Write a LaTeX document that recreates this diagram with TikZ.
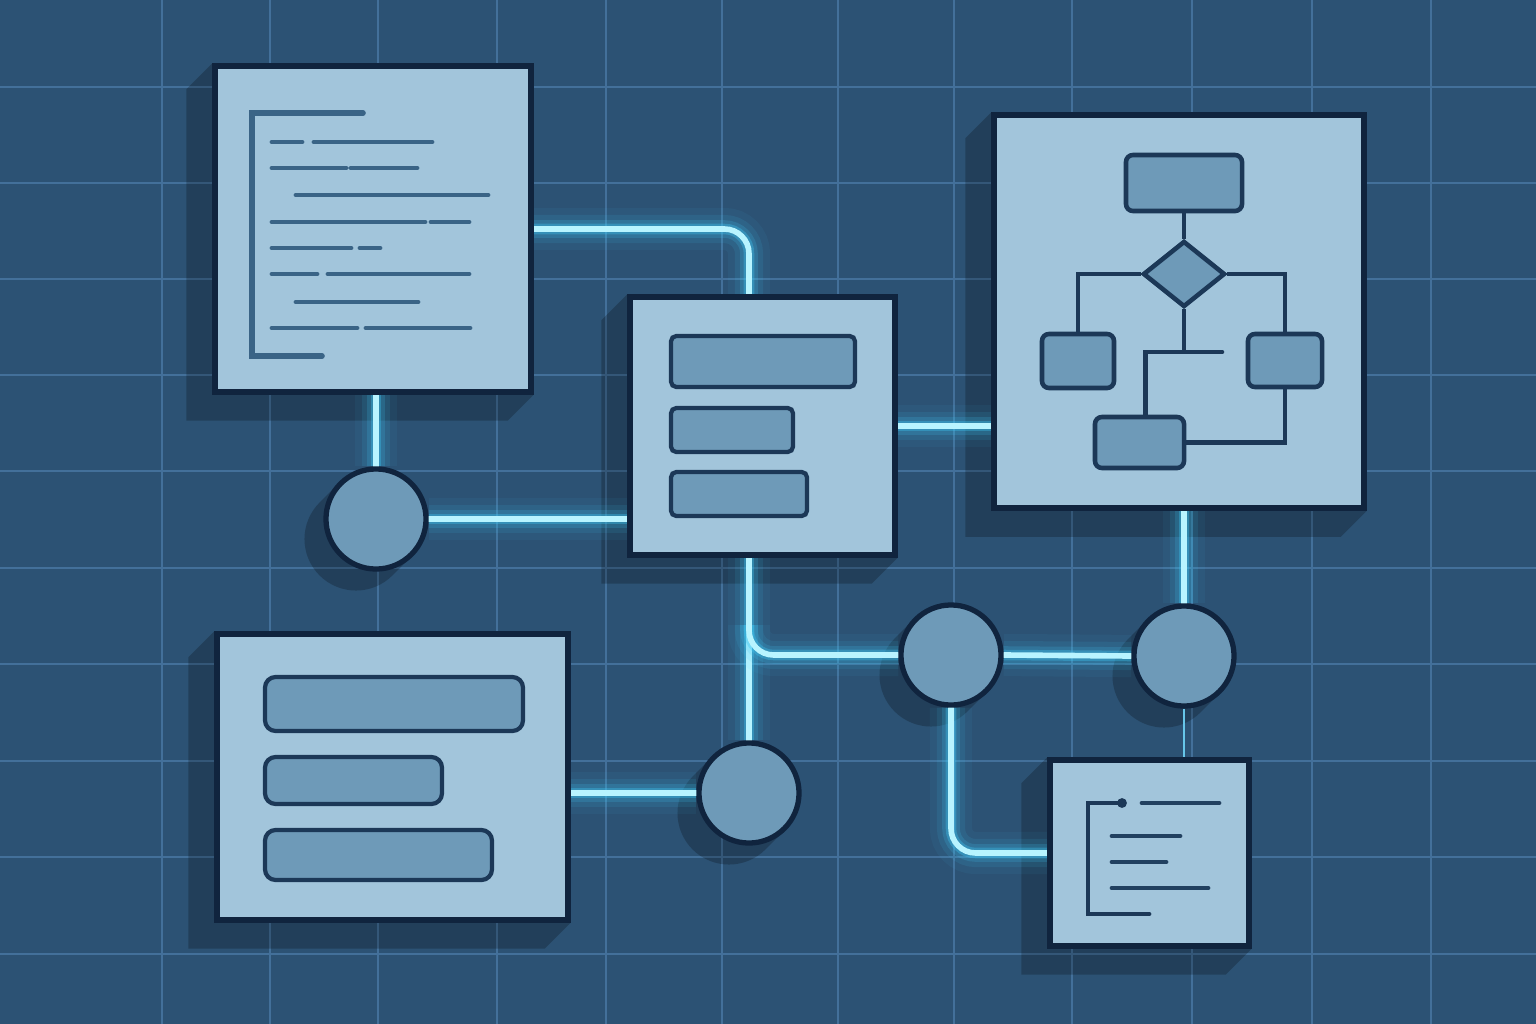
\documentclass[tikz,border=0pt]{standalone}
\usetikzlibrary{positioning, calc}
\usetikzlibrary{shapes.geometric, backgrounds}

\definecolor{bgblue}{HTML}{2C5274}
\definecolor{gridline}{HTML}{43709A}
\definecolor{paper}{HTML}{A2C5DB}
\definecolor{edge}{HTML}{10243E}
\definecolor{ink}{HTML}{3A6486}
\definecolor{barfill}{HTML}{6E9AB8}
\definecolor{barline}{HTML}{1C3857}
\definecolor{glowcore}{HTML}{B8F4FF}
\definecolor{glowhalo}{HTML}{3FC6F2}

\tikzset{
  panel/.style={draw=edge, fill=paper, line width=1.5pt, inner sep=0pt},
  hub/.style={circle, draw=edge, fill=barfill, line width=1.5pt, minimum size=1cm, inner sep=0pt},
  chartbox/.style={draw=barline, fill=barfill, line width=1.3pt, rounded corners=2pt, inner sep=0pt},
  chartlink/.style={draw=barline, line width=1.3pt},
  slot/.style={draw=barline, fill=barfill, line width=1.2pt, rounded corners=1.5pt},
  codeline/.style={draw=ink, line width=1.35pt, line cap=round},
  castshadow/.style={fill=black, opacity=0.22},
  glow/.style={draw=glowcore, line width=1.6pt, line cap=round, rounded corners=7pt,
    preaction={draw=glowhalo, opacity=0.06, line width=12pt},
    preaction={draw=glowhalo, opacity=0.10, line width=8pt},
    preaction={draw=glowhalo, opacity=0.18, line width=5pt},
    preaction={draw=glowhalo, opacity=0.35, line width=3pt}},
  thinlink/.style={draw=glowhalo!60!paper, line width=0.6pt}
}

\begin{document}
\begin{tikzpicture}[x=0.01cm, y=-0.01cm]
\useasboundingbox (0,0) rectangle (1536,1024);

\node[panel, minimum width=3.16cm, minimum height=3.26cm] (doc) at (373,229) {};
\node[panel, minimum width=2.65cm, minimum height=2.58cm] (list) at (762.5,426) {};
\node[panel, minimum width=3.70cm, minimum height=3.93cm] (flow) at (1179,311.5) {};
\node[panel, minimum width=3.51cm, minimum height=2.86cm] (form) at (392.5,777) {};
\node[panel, minimum width=1.99cm, minimum height=1.86cm] (note) at (1149.5,853) {};
\node[hub] (n1) at (376,519) {};
\node[hub] (n2) at (749,793) {};
\node[hub] (n3) at (951,655) {};
\node[hub] (n4) at (1184,656) {};

\begin{scope}[on background layer]
  \fill[bgblue] (0,0) rectangle (1536,1024);
  \foreach \gx in {162,270,378,497,606,722,838,954,1072,1192,1312,1431}
    \draw[gridline, line width=0.35pt] (\gx,0) -- (\gx,1024);
  \foreach \gy in {87,183,279,375,471,568,664,761,857,954}
    \draw[gridline, line width=0.35pt] (0,\gy) -- (1536,\gy);
  \foreach \b in {doc,list,flow,form,note}
    \fill[castshadow] (\b.north west) -- ++(-26,26) -- ($(\b.south west)+(-26,26)$)
      -- ($(\b.south east)+(-26,26)$) -- (\b.south east) -- (\b.south west) -- cycle;
  \foreach \c in {n1,n2,n3,n4}
    \draw[castshadow, draw=black, line width=1.03cm, line cap=round] (\c.center) -- ++(-20,20);
  \draw[glow] (doc.east) -- (doc.east -| n2) -- (list.north -| n2);
  \draw[glow] (n1 |- doc.south) -- (n1.north);
  \draw[glow] (n1.east) -- (n1 -| list.west);
  \draw[glow] (list.east) -- (list.east -| flow.west);
  \draw[glow] (n2 |- list.south) -- (n2.north);
  \draw[glow] ($(n2 |- n3)+(0,-30)$) -- (n2 |- n3) -- (n3.west);
  \draw[glow] (n3.east) -- (n4.west);
  \draw[glow] (n4 |- flow.south) -- (n4.north);
  \draw[glow] (n3.south) -- (n3 |- note.west) -- (note.west);
  \draw[glow] (form.east |- n2) -- (n2.west);
  \draw[thinlink] (n4.south) -- (n4 |- note.north);
\end{scope}

\draw[codeline, line width=1.6pt] (363,113) -- (252,113) -- (252,356) -- (322,356);
\draw[codeline] (272,142) -- (302,142) (314,142) -- (432,142);
\draw[codeline] (272,168) -- (346,168) (351,168) -- (417,168);
\draw[codeline] (296,195) -- (488,195);
\draw[codeline] (272,222) -- (425,222) (431,222) -- (469,222);
\draw[codeline] (272,248) -- (351,248) (360,248) -- (380,248);
\draw[codeline] (272,274) -- (317,274) (328,274) -- (469,274);
\draw[codeline] (296,302) -- (418,302);
\draw[codeline] (272,328) -- (357,328) (366,328) -- (470,328);

\draw[slot] (671,336) rectangle (855,387);
\draw[slot] (671,408) rectangle (793,452);
\draw[slot] (671,472) rectangle (807,516);

\draw[slot, rounded corners=3pt] (265,677) rectangle (523,731);
\draw[slot, rounded corners=3pt] (265,757) rectangle (442,804);
\draw[slot, rounded corners=3pt] (265,830) rectangle (492,880);

\node[chartbox, minimum width=1.16cm, minimum height=0.56cm] (fstart) at (1184,183) {};
\node[diamond, draw=barline, fill=barfill, line width=1.3pt, aspect=1.25, minimum width=0.82cm, minimum height=0.66cm, inner sep=0pt] (fdec) at (1184,274) {};
\node[chartbox, minimum width=0.72cm, minimum height=0.54cm] (fleft) at (1078,361) {};
\node[chartbox, minimum width=0.74cm, minimum height=0.53cm] (fright) at (1285,360.5) {};
\node[chartbox, minimum width=0.89cm, minimum height=0.51cm] (fend) at (1139.5,442.5) {};
\coordinate (fjoin) at (1184,352);
\draw[chartlink] (fstart) -- (fdec);
\draw[chartlink] (fdec.west) -| (fleft.north);
\draw[chartlink] (fdec.east) -| (fright.north);
\draw[chartlink] (fdec.south) -- (fjoin);
\draw[chartlink, line cap=round] ($(fjoin)+(38,0)$) -| ($(fend.north)+(6,0)$);
\draw[chartlink] (fright.south) |- (fend.east);

\draw[codeline, draw=barline] (1122,803) -- (1088,803) -- (1088,914) -- (1149,914);
\fill[barline] (1122,803) circle (1.4pt);
\draw[codeline, draw=barline!80!ink] (1142,803) -- (1219,803);
\draw[codeline, draw=barline!80!ink] (1112,836) -- (1180,836);
\draw[codeline, draw=barline!80!ink] (1112,862) -- (1166,862);
\draw[codeline, draw=barline!80!ink] (1112,888) -- (1208,888);
\end{tikzpicture}
\end{document}
